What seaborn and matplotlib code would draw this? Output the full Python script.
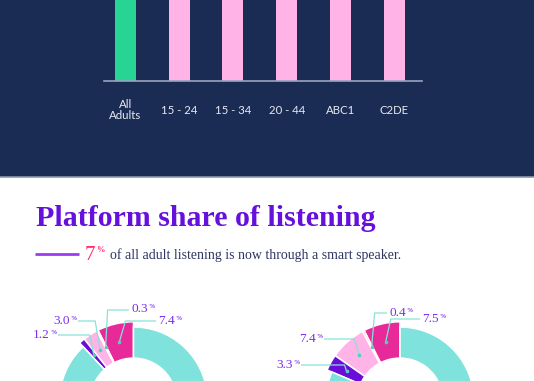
"""
Smart speaker listening infographic: cropped bar chart + platform share donuts.
"""

import matplotlib
matplotlib.use('Agg')
import matplotlib.pyplot as plt
import matplotlib.patches as mpatches
import numpy as np
import pandas as pd
import seaborn as sns

# --- data -------------------------------------------------------------------
groups = ['All\nAdults', '15 - 24', '15 - 34', '20 - 44', 'ABC1', 'C2DE']
# bar tops are cut off in the picture, values only need to reach past the crop
group_values = [22, 27, 30, 28, 24, 20]
group_colors = ['#27d493', '#ffb3e6', '#ffb3e6', '#ffb3e6', '#ffb3e6', '#ffb3e6']

platforms = ['Smart speaker', 'Other', 'Online / apps', 'Digital TV', 'Radio set']
left_share = [7.4, 0.3, 3.0, 1.2, 88.1]
right_share = [7.5, 0.4, 7.4, 3.3, 81.4]
left_labels = ['7.4', '0.3', '3.0', '1.2']
right_labels = ['7.5', '0.4', '7.4', '3.3']
platform_colors = ['#e8299a', '#ff8a2b', '#ffb3e6', '#6a0dd6', '#80e2dc']

W, H = 534, 381
NAVY = '#1b2c54'
SERIF = 'Liberation Serif'

sns.set_theme(style='white')
plt.rcParams['font.family'] = ['Lato', 'DejaVu Sans']

fig = plt.figure(figsize=(W / 100, H / 100), dpi=100)
fig.patch.set_facecolor('white')

# background layer in pixel coordinates
bg = fig.add_axes([0, 0, 1, 1], zorder=0)
bg.set_xlim(0, W)
bg.set_ylim(H, 0)
bg.axis('off')
bg.add_patch(mpatches.Rectangle((0, 0), W, 176.5, color=NAVY, lw=0))
bg.plot([0, W], [176.5, 176.5], color='#8d96b4', lw=1.2)

# --- bar chart (only the bottom is visible) ---------------------------------
ax = fig.add_axes([104 / W, (H - 81) / H, 318 / W, 1.0], zorder=1)
ax.set_facecolor('none')
df = pd.DataFrame({'group': groups, 'value': group_values})
sns.barplot(data=df, x='group', y='value', hue='group', palette=group_colors,
            legend=False, width=0.39, saturation=1, linewidth=0, ax=ax)
ax.set_xlim(-0.40, 5.52)
ax.set_ylim(0, 40)
ax.set_xlabel('')
ax.set_ylabel('')
ax.set_yticks([])
for side in ['top', 'left', 'right']:
    ax.spines[side].set_visible(False)
ax.spines['bottom'].set_color('#9aa3c0')
ax.spines['bottom'].set_linewidth(1.2)
ax.tick_params(axis='x', length=0, pad=21, colors='#e8e9f0', labelsize=8.2)
for lbl in ax.get_xticklabels():
    lbl.set_va('center')
    lbl.set_linespacing(0.95)

# --- donuts -----------------------------------------------------------------
R = 74.0
S = 1.5 * R


def draw_donut(cx, cy, shares):
    pax = fig.add_axes([(cx - S) / W, (H - cy - S) / H, 2 * S / W, 2 * S / H], zorder=1)
    wedges, _ = pax.pie(shares, colors=platform_colors, startangle=90, counterclock=True,
                        radius=1.0,
                        wedgeprops=dict(width=0.42, edgecolor='white', linewidth=1.1))
    for w in wedges[:-1]:
        w.set_radius(1.07)
        w.set_width(0.49)
    pax.set_xlim(-1.5, 1.5)
    pax.set_ylim(-1.5, 1.5)
    return wedges


left_wedges = draw_donut(133.5, 401, left_share)
right_wedges = draw_donut(400, 401, right_share)

# overlay for texts and leader lines
ov = fig.add_axes([0, 0, 1, 1], zorder=3)
ov.set_xlim(0, W)
ov.set_ylim(H, 0)
ov.axis('off')
ov.patch.set_visible(False)

renderer = fig.canvas.get_renderer()


def text_width(t):
    return t.get_window_extent(renderer=renderer).width


def pct_text(x, y, num, ha, size, color, pct_size, rise):
    # number with a small raised percent sign, y is the baseline
    if ha == 'left':
        t = ov.text(x, y, num, ha='left', va='baseline', fontsize=size,
                    color=color, family=SERIF)
        ov.text(x + text_width(t) + 1, y - rise, '%', ha='left', va='baseline',
                fontsize=pct_size, color=color, family=SERIF, fontweight='bold')
    else:
        p = ov.text(x, y - rise, '%', ha='right', va='baseline',
                    fontsize=pct_size, color=color, family=SERIF, fontweight='bold')
        ov.text(x - text_width(p) - 1, y, num, ha='right', va='baseline',
                fontsize=size, color=color, family=SERIF)


# text x, line y, elbow offset from the dot, alignment  (pixels)
left_layout = [(158, 321, 6, 'left'), (131, 310, 2, 'left'),
               (77, 321, -5, 'right'), (57, 335, -4, 'right')]
right_layout = [(422, 319, 5, 'left'), (389, 313, 3, 'left'),
                (323, 339, -5, 'right'), (300, 365, -2, 'right')]


def leaders(cx, cy, wedges, labels, layout):
    for w, lab, (tx, ly, eoff, ha) in zip(wedges, labels, layout):
        ang = np.deg2rad((w.theta1 + w.theta2) / 2)
        rm = (w.r - w.width / 2) * R
        dx, dy = cx + rm * np.cos(ang), cy - rm * np.sin(ang)
        ex = dx + eoff
        start = tx - 2 if ha == 'left' else tx + 1
        ov.plot([start, ex, dx], [ly, ly, dy], color='#86e3d6', lw=0.9,
                solid_capstyle='butt')
        ov.plot(dx, dy, 'o', ms=2.6, color='#4fd1bf', mec='none')
        pct_text(tx, ly + 2.5, lab, ha, 9.5, '#7a2cf0', 4.5, 4)


leaders(133.5, 401, left_wedges, left_labels, left_layout)
leaders(400, 401, right_wedges, right_labels, right_layout)

# --- titles -----------------------------------------------------------------
ov.text(36, 226, 'Platform share of listening', ha='left', va='baseline',
        fontsize=21.5, color='#6610dd', family=SERIF, fontweight='bold')
ov.plot([35, 79], [253.5, 253.5], color='#9b3cf2', lw=2, solid_capstyle='butt')
pct_text(85, 259.5, '7', 'left', 15, '#ff2d6b', 6, 7)
ov.text(110, 259, 'of all adult listening is now through a smart speaker.',
        ha='left', va='baseline', fontsize=10, color='#2e3562', family=SERIF)

fig.savefig('out.png', dpi=100)
